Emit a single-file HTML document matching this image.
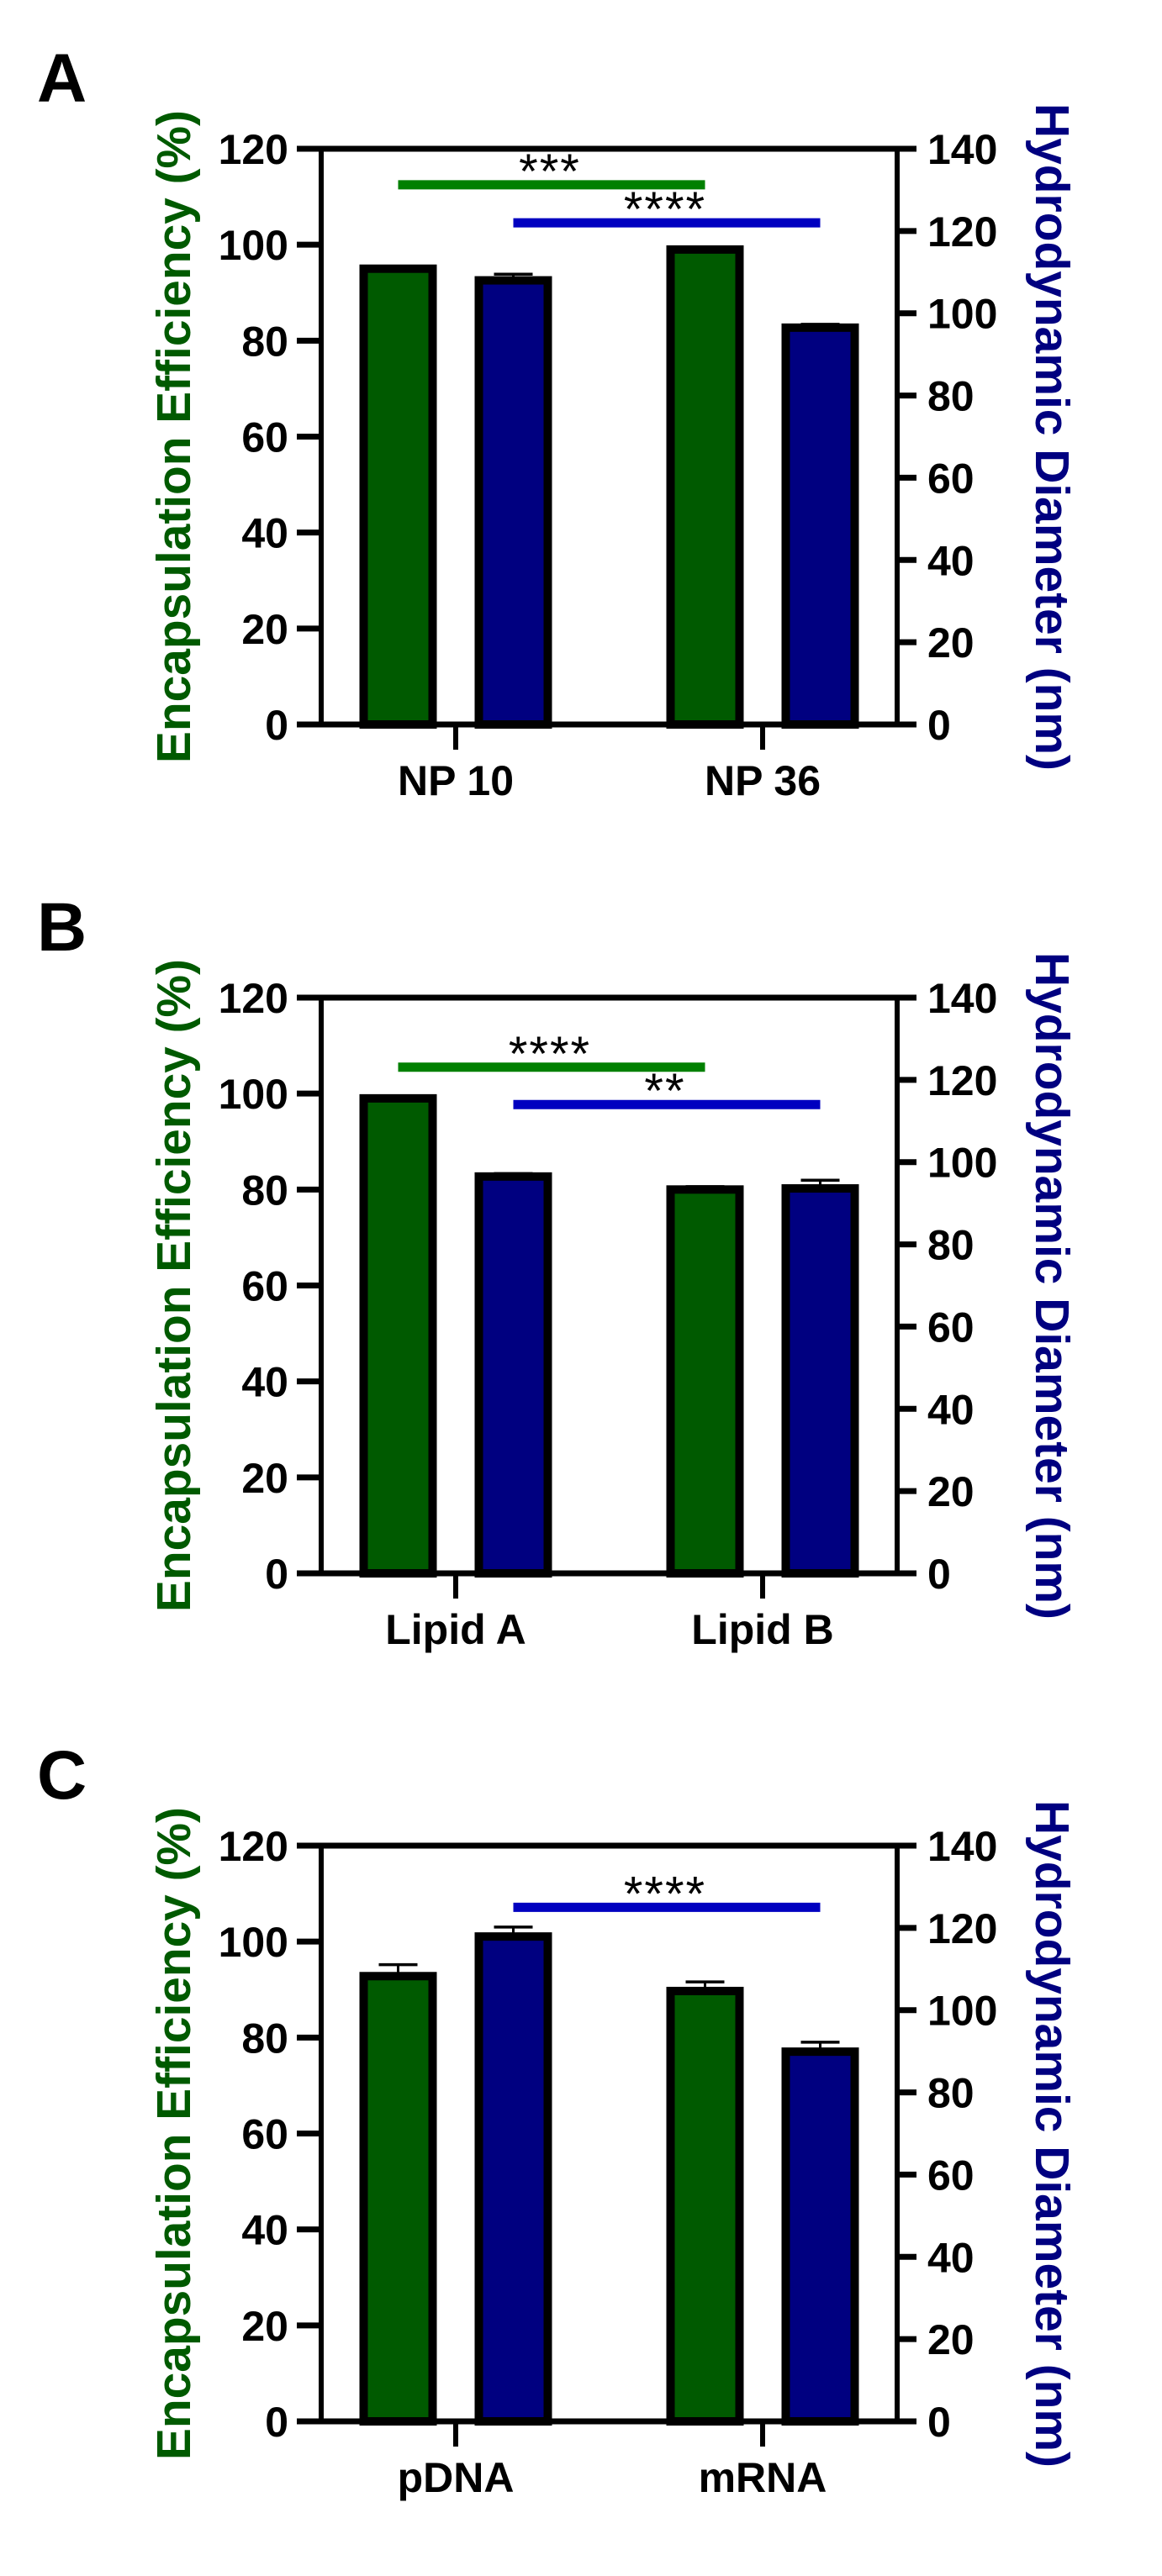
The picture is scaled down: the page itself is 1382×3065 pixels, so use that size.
<!DOCTYPE html>
<html><head><meta charset="utf-8"><style>
html,body{margin:0;padding:0;background:#fff;}
svg{display:block;font-family:"Liberation Sans",Arial,sans-serif;}
</style></head><body>
<svg id="fig" width="1382" height="3065" viewBox="0 0 1382 3065" xmlns="http://www.w3.org/2000/svg"></svg>
<script>
// ---- data ----
const panelLetters = ["A", "B", "C"];
const categoriesA = ["NP 10", "NP 36"];
const categoriesB = ["Lipid A", "Lipid B"];
const categoriesC = ["pDNA", "mRNA"];
const effA = [95, 99];        const effErrA = [0, 0];
const diaA = [108, 96.5];     const diaErrA = [1.5, 0.8];
const effB = [99, 80];        const effErrB = [0, 0.6];
const diaB = [96.5, 93.6];    const diaErrB = [0.7, 2];
const effC = [92.8, 89.7];    const effErrC = [2.4, 1.9];
const diaC = [117.9, 89.9];   const diaErrC = [2.3, 2.3];
const leftTicks = [0, 20, 40, 60, 80, 100, 120];
const rightTicks = [0, 20, 40, 60, 80, 100, 120, 140];
// from/to: 0 = efficiency bar, 1 = diameter bar; group index g1/g2
const sigA = [{stars:"***", axis:"left", level:112.5, fromG:0, fromS:0, toG:1, toS:0}, {stars:"****", axis:"right", level:122, fromG:0, fromS:1, toG:1, toS:1}];
const sigB = [{stars:"****", axis:"left", level:105.5, fromG:0, fromS:0, toG:1, toS:0}, {stars:"**", axis:"right", level:114, fromG:0, fromS:1, toG:1, toS:1}];
const sigC = [{stars:"****", axis:"right", level:125, fromG:0, fromS:1, toG:1, toS:1}];

const panels = [
  {cats:categoriesA, eff:effA, effErr:effErrA, dia:diaA, diaErr:diaErrA, sig:sigA},
  {cats:categoriesB, eff:effB, effErr:effErrB, dia:diaB, diaErr:diaErrB, sig:sigB},
  {cats:categoriesC, eff:effC, effErr:effErrC, dia:diaC, diaErr:diaErrC, sig:sigC}
];
const offsets = [0, 1010, 2019];

const NS = "http://www.w3.org/2000/svg";
const svg = document.getElementById("fig");
function mk(tag, attrs, parent) {
  const e = document.createElementNS(NS, tag);
  for (const k in attrs) e.setAttribute(k, attrs[k]);
  (parent || svg).appendChild(e);
  return e;
}
const X0 = 382, X1 = 1067, YT = 177, YB = 862;
const yL = v => YB - (v / 120) * (YB - YT);
const yR = v => YB - (v / 140) * (YB - YT);
const groupCenters = [542, 907];
const barW = 92, pairGap = 45;
const barX = (gi, si) => groupCenters[gi] - (barW + pairGap / 2) + si * (barW + pairGap);
const barC = (gi, si) => barX(gi, si) + barW / 2;

panels.forEach((p, pi) => {
  const g = mk("g", {transform: "translate(0," + offsets[pi] + ")"});
  
  

  const letter = mk("text", {x: 44, y: 121, "font-size": 82, "font-weight": "bold", fill: "#000"}, g);
  letter.textContent = panelLetters[pi];
  
  

  p.cats.forEach((c, gi) => {
    [[p.eff, p.effErr, yL, "#005a00"], [p.dia, p.diaErr, yR, "#000080"]].forEach((s, si) => {
      const v = s[0][gi], err = s[1][gi], fy = s[2];
      const x = barX(gi, si);
      const yt = fy(v);
      if (err > 0) {
        const ye = fy(v + err);
        const eb = mk("g", {}, g);
        
        
        mk("line", {x1: x + barW / 2, x2: x + barW / 2, y1: yt, y2: ye, stroke: "#000", "stroke-width": 3}, eb);
        mk("line", {x1: x + barW / 2 - 23, x2: x + barW / 2 + 23, y1: ye, y2: ye, stroke: "#000", "stroke-width": 3.5}, eb);
      }
      const r = mk("rect", {x: x + 5, y: yt, width: barW - 10, height: YB - yt, fill: s[3], stroke: "#000", "stroke-width": 10}, g);
      
      
    });
    const tx = groupCenters[gi];
    mk("line", {x1: tx, x2: tx, y1: YB, y2: 892, stroke: "#000", "stroke-width": 6}, g);
    const lbl = mk("text", {x: tx, y: 946, "font-size": 50, "font-weight": "bold", "text-anchor": "middle"}, g);
    lbl.textContent = c;
    
    
  });

  const ax = mk("g", {}, g);
  
  
  mk("line", {x1: 353, x2: 1090, y1: YT, y2: YT, stroke: "#000", "stroke-width": 7}, ax);
  mk("line", {x1: 353, x2: 1090, y1: YB, y2: YB, stroke: "#000", "stroke-width": 7}, ax);
  mk("line", {x1: X0, x2: X0, y1: YT, y2: YB, stroke: "#000", "stroke-width": 6}, ax);
  mk("line", {x1: X1, x2: X1, y1: YT, y2: YB, stroke: "#000", "stroke-width": 6}, ax);
  leftTicks.forEach(t => {
    const y = yL(t);
    mk("line", {x1: 353, x2: X0, y1: y, y2: y, stroke: "#000", "stroke-width": 7}, ax);
    const tl = mk("text", {x: 343, y: y + 18, "font-size": 50, "font-weight": "bold", "text-anchor": "end"}, ax);
    tl.textContent = t;
    
    
  });
  rightTicks.forEach(t => {
    const y = yR(t);
    mk("line", {x1: X1, x2: 1090, y1: y, y2: y, stroke: "#000", "stroke-width": 7}, ax);
    const tl = mk("text", {x: 1103, y: y + 18, "font-size": 50, "font-weight": "bold"}, ax);
    tl.textContent = t;
    
    
  });

  p.sig.forEach(s => {
    const fy = s.axis === "left" ? yL : yR;
    const y = fy(s.level);
    const x1 = barC(s.fromG, s.fromS), x2 = barC(s.toG, s.toS);
    const sg = mk("g", {}, g);
    
    
    mk("line", {x1: x1, x2: x2, y1: y, y2: y, stroke: s.axis === "left" ? "#008000" : "#0000c0", "stroke-width": 11}, sg);
    const st = mk("text", {x: (x1 + x2) / 2 - 2, y: y + 4, "font-size": 58, "text-anchor": "middle", "letter-spacing": 2}, sg);
    st.textContent = s.stars;
  });

  const lt = mk("text", {transform: "translate(226,519.5) rotate(-90)", "font-size": 57, "font-weight": "bold", fill: "#005a00", "text-anchor": "middle", textLength: 777, lengthAdjust: "spacingAndGlyphs"}, g);
  lt.textContent = "Encapsulation Efficiency  (%)";
  
  
  const rt = mk("text", {transform: "translate(1232,520) rotate(90)", "font-size": 57, "font-weight": "bold", fill: "#000080", "text-anchor": "middle", textLength: 794, lengthAdjust: "spacingAndGlyphs"}, g);
  rt.textContent = "Hydrodynamic  Diameter (nm)";
  
  
});
</script>
</body></html>
